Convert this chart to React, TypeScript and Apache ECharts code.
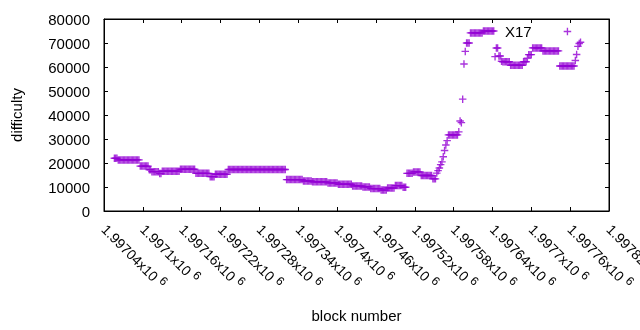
import { useEffect, useRef } from "react";
import * as echarts from "echarts";

// ---- data ----
const seriesName = "X17";
const xAxisTitle = "block number";
const yAxisTitle = "difficulty";

const xMin = 1997040;
const xMax = 1997820;
const xInterval = 60;
const yMin = 0;
const yMax = 80000;
const yInterval = 10000;

// one sample every 2 blocks, starting at firstBlock
const firstBlock = 1997056;
const blockStep = 2;
const difficulty = [
  22000, 22000, 22000,
  21300, 21300, 21300, 21300, 21300, 21300, 21300, 21300, 21300, 21300, 21300, 21300, 21300, 21300, 21300, 21300, 21300,
  18700, 18700, 18700, 18700, 18700, 18700, 18700,
  17200, 17200,
  16400, 16400, 16400, 16400, 16400, 16400,
  15600, 15600,
  16600, 16600, 16600, 16600, 16600, 16600, 16600, 16600, 16600, 16600, 16600, 16600, 16600, 16600,
  17400, 17400, 17400, 17400, 17400, 17400, 17400, 17400, 17400, 17400, 17400, 17400,
  15700, 15700, 15700, 15700, 15700, 15700, 15700, 15700, 15700, 15700, 15700,
  14300, 14300, 14300, 14300,
  15300, 15300, 15300, 15300, 15300, 15300, 15300, 15300, 15300, 15300,
  17300, 17300, 17300, 17300, 17300, 17300, 17300, 17300, 17300, 17300,
  17300, 17300, 17300, 17300, 17300, 17300, 17300, 17300, 17300, 17300,
  17300, 17300, 17300, 17300, 17300, 17300, 17300, 17300, 17300, 17300,
  17300, 17300, 17300, 17300, 17300, 17300, 17300, 17300, 17300, 17300,
  17300, 17300, 17300, 17300, 17300,
  13100, 13100, 13100, 13100, 13100, 13100, 13100, 13100, 13100, 13100, 13100, 13100, 13100,
  12500, 12500, 12500, 12500, 12500, 12500, 12500,
  12150, 12150, 12150, 12150, 12150, 12150, 12150, 12150, 12150, 12150, 12150, 12150,
  11700, 11700, 11700, 11700, 11700, 11700, 11700, 11700,
  11150, 11150, 11150, 11150, 11150, 11150, 11150, 11150, 11150, 11150, 11150,
  10450, 10450, 10450, 10450, 10450, 10450, 10450, 10450,
  10050, 10050, 10050, 10050, 10050, 10050,
  9350, 9350, 9350, 9350, 9350, 9350, 9350, 9350,
  8700, 8700, 8700, 8700, 8700,
  9600, 9600, 9600, 9600, 9600, 9600,
  10600, 10600, 10600, 10600, 10600, 10600,
  9900, 9900, 9900,
  15700, 15700, 15700, 15700, 15700,
  16300, 16300, 16300, 16300, 16300, 16300,
  14800, 14800, 14800, 14800, 14800, 14800, 14800, 14800, 14800,
  13400, 13400, 13400,
  15800, 16800, 17900, 19300, 20500, 22600, 25200, 27500, 29300,
  31700, 31700, 31700, 31700, 31700, 31700, 31700, 31700,
  33000, 37500, 36800,
  46600, 61250, 66500,
  70000, 70000, 70000,
  74200, 74200, 74200, 74200, 74200, 74200, 74200, 74200, 74200, 74200,
  75000, 75000, 75000, 75000, 75000, 75000, 75000, 75000, 75000,
  64300, 67900, 67900, 64600, 64600, 62400,
  62200, 62200, 62200, 62200, 62200, 62200,
  60750, 60750, 60750, 60750, 60750, 60750, 60750, 60750, 60750, 60750,
  62200, 62200, 62200,
  63700,
  65150, 65150, 65150,
  67950, 67950, 67950, 67950, 67950, 67950, 67950, 67950,
  66700, 66700, 66700, 66700, 66700, 66700, 66700, 66700, 66700, 66700, 66700, 66700, 66700,
  60400, 60400, 60400, 60400, 60400, 60400, 60400, 60400, 60400, 60400, 60400, 60400,
  62700, 65200, 68600, 69800, 70300,
];

const COLOR = "#9400D3";
const FONT = "Liberation Sans";
const PLUS = "path://M4.1,0h1.8v4.1h4.1v1.8h-4.1v4.1h-1.8v-4.1h-4.1v-1.8h4.1z";

export default function App() {
  const ref = useRef<HTMLDivElement>(null);

  useEffect(() => {
    const chart = echarts.init(ref.current!, null, { renderer: "svg" });
    const points = difficulty.map((v, i) => [firstBlock + i * blockStep, v]);

    const xTickFormatter = (v: number) => {
      const m = parseFloat((v / 1e6).toFixed(5));
      return `{a|${m}x10}{s|6}`;
    };

    chart.setOption({
      animation: false,
      grid: {
        left: 104,
        right: 31,
        top: 19,
        bottom: 119,
        outerBoundsMode: "none",
        show: true,
        borderColor: "#000",
        borderWidth: 1,
      },
      legend: {
        data: [seriesName],
        left: 505,
        top: 24,
        padding: 0,
        align: "right",
        icon: PLUS,
        itemWidth: 7.5,
        itemHeight: 7.5,
        selectedMode: false,
        textStyle: {
          fontFamily: FONT,
          fontSize: 15,
          color: "#000",
          padding: [0, 27, 0, 0],
        },
      },
      xAxis: [
        {
          type: "value",
          min: xMin,
          max: xMax,
          interval: xInterval,
          axisLine: { show: true, onZero: false, lineStyle: { color: "#000", width: 1 } },
          axisTick: { show: true, inside: true, length: 4, lineStyle: { color: "#000", width: 1 } },
          splitLine: { show: false },
          name: xAxisTitle,
          nameLocation: "middle",
          nameGap: 97,
          nameTextStyle: { fontFamily: FONT, fontSize: 15, color: "#000" },
          axisLabel: {
            rotate: -45,
            margin: 16,
            showMinLabel: true,
            showMaxLabel: true,
            formatter: xTickFormatter,
            rich: {
              a: { fontFamily: FONT, fontSize: 14, color: "#000", lineHeight: 20 },
              s: {
                fontFamily: FONT,
                fontSize: 12,
                color: "#000",
                lineHeight: 12,
                verticalAlign: "top",
                padding: [0, 0, 0, 4],
              },
            },
          },
        },
        {
          type: "value",
          position: "top",
          min: xMin,
          max: xMax,
          interval: xInterval,
          axisLine: { show: true, onZero: false, lineStyle: { color: "#000", width: 1 } },
          axisTick: { show: true, inside: true, length: 4, lineStyle: { color: "#000", width: 1 } },
          axisLabel: { show: false },
          splitLine: { show: false },
        },
      ],
      yAxis: [
        {
          type: "value",
          min: yMin,
          max: yMax,
          interval: yInterval,
          axisLine: { show: true, onZero: false, lineStyle: { color: "#000", width: 1 } },
          axisTick: { show: true, inside: true, length: 4, lineStyle: { color: "#000", width: 1 } },
          splitLine: { show: false },
          name: yAxisTitle,
          nameLocation: "middle",
          nameGap: 80,
          nameTextStyle: { fontFamily: FONT, fontSize: 15, color: "#000" },
          axisLabel: {
            margin: 14,
            fontFamily: FONT,
            fontSize: 15,
            color: "#000",
            formatter: (v: number) => String(v),
          },
        },
        {
          type: "value",
          position: "right",
          min: yMin,
          max: yMax,
          interval: yInterval,
          axisLine: { show: true, onZero: false, lineStyle: { color: "#000", width: 1 } },
          axisTick: { show: true, inside: true, length: 4, lineStyle: { color: "#000", width: 1 } },
          axisLabel: { show: false },
          splitLine: { show: false },
        },
      ],
      series: [
        {
          type: "scatter",
          name: seriesName,
          data: points,
          symbol: PLUS,
          symbolSize: 7.5,
          itemStyle: { color: COLOR },
        },
      ],
    });

    return () => chart.dispose();
  }, []);

  return (
    <div ref={ref} style={{ position: "fixed", left: 0, top: 0, width: 640, height: 330 }} />
  );
}
